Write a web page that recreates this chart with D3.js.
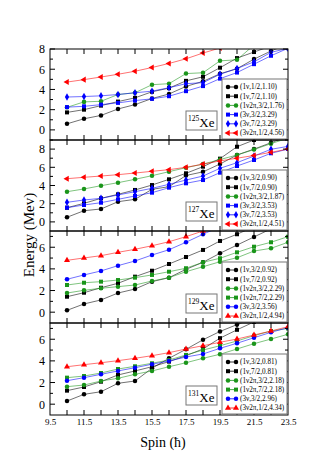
<!DOCTYPE html>
<html>
<head>
<meta charset="utf-8">
<script src="https://cdn.jsdelivr.net/npm/d3@7"></script>
<style>
  body { margin: 0; background: #fff; }
  text { font-family: "Liberation Serif", "DejaVu Serif", serif; }
</style>
</head>
<body>
<svg id="chart" width="329" height="466"></svg>
<script>
// spin values shared by all panels
const spins = [10.5, 11.5, 12.5, 13.5, 14.5, 15.5, 16.5, 17.5, 18.5, 19.5, 20.5, 21.5, 22.5, 23.5];
const xTickLabels = ["9.5", "11.5", "13.5", "15.5", "17.5", "19.5", "21.5", "23.5"];

// 125Xe
const xe125Labels = ["(1ν,1/2,1.10)", "(1ν,7/2,1.10)", "(1ν2π,3/2,1.76)", "(3ν,3/2,3.29)", "(3ν,7/2,3.29)", "(3ν2π,1/2,4.56)"];
const xe125A = [0.6, 1.1, 1.43, 2.07, 2.5, 3.1, 3.55, 4.3, 4.8, 5.55, 6.05, 7.0, 7.8, 8.5];
const xe125B = [1.73, 2.0, 2.4, 2.8, 3.17, 3.77, 4.13, 4.85, 5.25, 6.15, 7.1, 7.7, 8.3, 8.9];
const xe125C = [2.23, 2.77, 2.83, 3.5, 3.67, 4.47, 4.57, 5.57, 5.65, 6.83, 6.93, 8.4];
const xe125D = [2.25, 2.33, 2.5, 2.67, 2.9, 3.07, 3.33, 3.83, 4.33, 5.07, 5.67, 6.5, 7.33, 8.07];
const xe125E = [3.25, 3.3, 3.37, 3.5, 3.67, 3.83, 4.17, 4.57, 4.67, 5.5, 6.07, 6.73, 7.67, 8.07];
const xe125F = [4.73, 4.97, 5.23, 5.5, 5.8, 6.17, 6.57, 7.03, 7.6, 8.1];

// 127Xe
const xe127Labels = ["(1ν,3/2,0.90)", "(1ν,7/2,0.90)", "(1ν2π,3/2,1.87)", "(3ν,3/2,3.53)", "(3ν,7/2,3.53)", "(3ν2π,1/2,4.51)"];
const xe127A = [0.51, 1.23, 1.42, 2.22, 2.48, 3.58, 3.87, 5.1, 5.5, 6.36, 7.35, 8.0, 8.7, 9.4];
const xe127B = [1.56, 2.04, 2.59, 3.03, 3.51, 4.05, 4.68, 5.34, 6.07, 6.95, 8.26, 9.0, 9.6];
const xe127C = [3.32, 3.62, 3.98, 4.31, 4.68, 5.08, 5.52, 5.96, 6.35, 6.85, 7.35, 7.95, 8.6, 9.2];
const xe127D = [1.56, 1.86, 2.11, 2.48, 2.85, 3.21, 3.76, 4.24, 4.6, 5.41, 6.14, 6.8, 7.54, 8.0];
const xe127E = [2.15, 2.41, 2.59, 2.96, 3.32, 3.69, 4.13, 4.6, 5.04, 5.89, 6.51, 7.24, 7.98, 8.3];
const xe127F = [4.75, 4.9, 5.04, 5.19, 5.37, 5.56, 5.74, 6.0, 6.35, 6.7, 7.0, 7.3, 7.65, 8.0];

// 129Xe
const xe129Labels = ["(1ν,3/2,0.92)", "(1ν,7/2,0.92)", "(1ν2π,3/2,2.29)", "(1ν2π,7/2,2.29)", "(3ν,3/2,3.56)", "(3ν2π,1/2,4.94)"];
const xe129A = [0.17, 0.76, 1.13, 1.77, 2.14, 2.82, 3.19, 3.96, 4.61, 5.44, 6.2, 6.95, 7.7];
const xe129B = [1.43, 1.8, 2.26, 2.67, 3.28, 3.83, 4.45, 5.1, 5.75, 6.58, 7.2, 7.9];
const xe129C = [1.77, 2.02, 2.21, 2.36, 2.51, 2.88, 3.19, 3.74, 4.2, 4.66, 5.03, 5.65, 5.9, 6.46];
const xe129D = [2.51, 2.72, 2.82, 2.97, 3.19, 3.44, 3.74, 4.06, 4.61, 4.98, 5.53, 6.05, 6.46, 6.98];
const xe129E = [3.04, 3.44, 3.81, 4.3, 4.73, 5.28, 5.77, 6.46, 7.2, 7.9];
const xe129F = [4.79, 5.01, 5.22, 5.53, 5.81, 6.14, 6.51, 6.98, 7.5, 8.0];

// 131Xe
const xe131Labels = ["(1ν,3/2,0.81)", "(1ν,7/2,0.81)", "(1ν2π,3/2,2.18)", "(1ν2π,7/2,2.18)", "(3ν,3/2,2.96)", "(3ν2π,1/2,4.34)"];
const xe131A = [0.29, 0.91, 1.15, 1.93, 2.14, 3.32, 4.24, 5.07, 5.95, 6.72, 7.35, 8.0];
const xe131B = [1.25, 1.59, 2.08, 2.7, 3.07, 3.46, 3.93, 4.48, 5.1, 6.1, 6.87, 7.6, 8.2];
const xe131C = [1.62, 1.77, 2.14, 2.39, 2.76, 3.07, 3.46, 3.83, 4.24, 4.61, 5.1, 5.59, 6.02, 6.46];
const xe131D = [2.45, 2.6, 2.88, 3.25, 3.5, 3.78, 4.08, 4.55, 5.0, 5.4, 5.84, 6.33, 6.76, 7.0];
const xe131E = [2.17, 2.45, 2.76, 3.07, 3.37, 3.69, 3.99, 4.36, 4.64, 5.16, 5.63, 6.14, 6.64, 7.07];
const xe131F = [3.46, 3.65, 3.83, 4.02, 4.24, 4.48, 4.76, 5.1, 5.4, 5.72, 6.02, 6.39, 6.76, 7.16];

const BLACK = "#000", GREEN = "#1a951a", BLUE = "#0000ff", RED = "#ff0000";

const panels = [
  { iso: "125", yMax: 8, labels: xe125Labels,
    series: [[xe125A, BLACK, "circle"], [xe125B, BLACK, "square"], [xe125C, GREEN, "circle"],
             [xe125D, BLUE, "square"], [xe125E, BLUE, "diamond"], [xe125F, RED, "tri-left"]] },
  { iso: "127", yMax: 9, labels: xe127Labels,
    series: [[xe127A, BLACK, "circle"], [xe127B, BLACK, "square"], [xe127C, GREEN, "circle"],
             [xe127D, BLUE, "square"], [xe127E, BLUE, "diamond"], [xe127F, RED, "tri-left"]] },
  { iso: "129", yMax: 7.5, labels: xe129Labels,
    series: [[xe129A, BLACK, "circle"], [xe129B, BLACK, "square"], [xe129C, GREEN, "circle"],
             [xe129D, GREEN, "square"], [xe129E, BLUE, "circle"], [xe129F, RED, "triangle"]] },
  { iso: "131", yMax: 7.5, labels: xe131Labels,
    series: [[xe131A, BLACK, "circle"], [xe131B, BLACK, "square"], [xe131C, GREEN, "circle"],
             [xe131D, GREEN, "square"], [xe131E, BLUE, "circle"], [xe131F, RED, "triangle"]] }
];

const svg = d3.select("#chart");
const left = 50, right = 288;
const bounds = [49, 140, 231, 323, 415];

const x = d3.scaleLinear().domain([9.5, 23.5]).range([left, right]);

const symbols = {
  circle: d3.symbol().type(d3.symbolCircle).size(16),
  square: d3.symbol().type(d3.symbolSquare).size(16),
  diamond: d3.symbol().type(d3.symbolDiamond).size(16),
  triangle: d3.symbol().type(d3.symbolTriangle).size(16),
  "tri-left": d3.symbol().type(d3.symbolTriangle).size(16)
};
function drawMarker(g, type, cx, cy, color) {
  g.append("path")
    .attr("d", symbols[type]())
    .attr("transform", `translate(${cx},${cy})` + (type === "tri-left" ? " rotate(-90)" : ""))
    .attr("fill", color);
}

panels.forEach((p, i) => {
  const top = bounds[i], bottom = bounds[i + 1];
  const y = d3.scaleLinear().domain([-1, p.yMax]).range([bottom, top]);
  const g = svg.append("g");

  g.append("clipPath").attr("id", "clip" + i)
    .append("rect").attr("x", left).attr("y", top).attr("width", right - left).attr("height", bottom - top);
  const plot = g.append("g").attr("clip-path", `url(#clip${i})`);

  const line = d3.line().x((d, j) => x(spins[j])).y(d => y(d));
  p.series.forEach(([vals, color, shape]) => {
    plot.append("path").datum(vals)
      .attr("d", line).attr("fill", "none")
      .attr("stroke", color).attr("stroke-width", 0.8).attr("stroke-opacity", 0.7);
    vals.forEach((v, j) => drawMarker(plot, shape, x(spins[j]), y(v), color));
  });

  // axes: ticks inward on all four sides
  const yTicks = d3.range(0, Math.floor(p.yMax) + 1);
  g.append("g").attr("transform", `translate(${left},0)`)
    .call(d3.axisLeft(y).tickValues(yTicks.filter(t => t % 2 === 0)).tickSize(0).tickPadding(5))
    .call(a => a.select(".domain").remove())
    .call(a => a.selectAll("text").attr("font-size", 12).attr("font-family", "Liberation Serif"));
  yTicks.forEach(t => {
    const len = t % 2 === 0 ? 5 : 3;
    g.append("line").attr("x1", left).attr("x2", left + len).attr("y1", y(t)).attr("y2", y(t)).attr("stroke", "#000");
    g.append("line").attr("x1", right).attr("x2", right - len).attr("y1", y(t)).attr("y2", y(t)).attr("stroke", "#000");
  });
  d3.range(10.5, 23.5, 1).forEach(s => {
    g.append("line").attr("x1", x(s)).attr("x2", x(s)).attr("y1", bottom).attr("y2", bottom - 5).attr("stroke", "#000");
    g.append("line").attr("x1", x(s)).attr("x2", x(s)).attr("y1", top).attr("y2", top + 5).attr("stroke", "#000");
  });
  g.append("rect").attr("x", left).attr("y", top).attr("width", right - left).attr("height", bottom - top)
    .attr("fill", "none").attr("stroke", "#000").attr("stroke-width", 1);

  // legend
  const lg = g.append("g").attr("transform", `translate(222,${bottom - 61})`);
  lg.append("rect").attr("width", 65).attr("height", 60).attr("fill", "#fff")
    .attr("stroke", "#777").attr("stroke-width", 1);
  p.series.forEach(([vals, color, shape], k) => {
    const ry = 8 + k * 9.2;
    lg.append("line").attr("x1", 6).attr("x2", 14).attr("y1", ry).attr("y2", ry)
      .attr("stroke", color).attr("stroke-width", 0.8);
    drawMarker(lg, shape, 6, ry, color);
    drawMarker(lg, shape, 14, ry, color);
    lg.append("text").attr("x", 18).attr("y", ry + 2.4).attr("font-size", 7.2).text(p.labels[k]);
  });

  // isotope label
  const ib = g.append("g").attr("transform", `translate(186,${bottom - 29})`);
  ib.append("rect").attr("width", 31).attr("height", 19).attr("fill", "#fff")
    .attr("stroke", "#777").attr("stroke-width", 1);
  const t = ib.append("text").attr("x", 2).attr("y", 15.5).attr("font-size", 13);
  t.append("tspan").attr("font-size", 7.5).attr("dy", -6).text(p.iso);
  t.append("tspan").attr("dy", 6).text("Xe");
});

// x tick labels below the bottom panel
const xb = svg.append("g").attr("transform", `translate(0,${bounds[4]})`)
  .call(d3.axisBottom(x).tickValues(xTickLabels.map(Number)).tickFormat((d, k) => xTickLabels[k]).tickSize(0).tickPadding(4));
xb.select(".domain").remove();
xb.selectAll("text").attr("font-size", 9).attr("font-family", "Liberation Serif");

svg.append("text").attr("x", 163).attr("y", 447).attr("text-anchor", "middle")
  .attr("font-size", 14).text("Spin (ħ)");
svg.append("text").attr("transform", "translate(34,235) rotate(-90)").attr("text-anchor", "middle")
  .attr("font-size", 15).text("Energy (Mev)");
</script>
</body>
</html>
